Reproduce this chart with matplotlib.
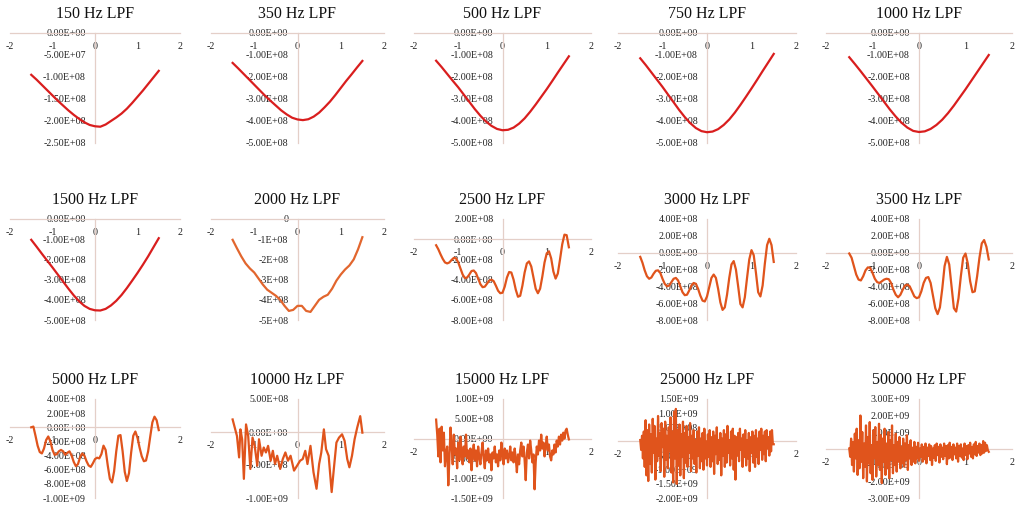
import matplotlib
matplotlib.use("Agg")
import matplotlib.pyplot as plt

plt.rcParams['font.family'] = ['Liberation Serif', 'DejaVu Serif']

# sample positions along x
x_eighth = [-1.5, -1.375, -1.25, -1.125, -1.0, -0.875, -0.75, -0.625, -0.5, -0.375,
            -0.25, -0.125, 0.0, 0.125, 0.25, 0.375, 0.5, 0.625, 0.75, 0.875,
            1.0, 1.125, 1.25, 1.375, 1.5]
x_tenth = [-1.5, -1.4, -1.3, -1.2, -1.1, -1.0, -0.9, -0.8, -0.7, -0.6,
           -0.5, -0.4, -0.3, -0.2, -0.1, 0.0, 0.1, 0.2, 0.3, 0.4,
           0.5, 0.6, 0.7, 0.8, 0.9, 1.0, 1.1, 1.2, 1.3, 1.4, 1.5]
x_twentieth = [-1.5, -1.45, -1.4, -1.35, -1.3, -1.25, -1.2, -1.15, -1.1, -1.05,
               -1.0, -0.95, -0.9, -0.85, -0.8, -0.75, -0.7, -0.65, -0.6, -0.55,
               -0.5, -0.45, -0.4, -0.35, -0.3, -0.25, -0.2, -0.15, -0.1, -0.05,
               0.0, 0.05, 0.1, 0.15, 0.2, 0.25, 0.3, 0.35, 0.4, 0.45,
               0.5, 0.55, 0.6, 0.65, 0.7, 0.75, 0.8, 0.85, 0.9, 0.95,
               1.0, 1.05, 1.1, 1.15, 1.2, 1.25, 1.3, 1.35, 1.4, 1.45, 1.5]
x_fortieth = [-1.5, -1.475, -1.45, -1.425, -1.4, -1.375, -1.35, -1.325, -1.3, -1.275,
              -1.25, -1.225, -1.2, -1.175, -1.15, -1.125, -1.1, -1.075, -1.05, -1.025,
              -1.0, -0.975, -0.95, -0.925, -0.9, -0.875, -0.85, -0.825, -0.8, -0.775,
              -0.75, -0.725, -0.7, -0.675, -0.65, -0.625, -0.6, -0.575, -0.55, -0.525,
              -0.5, -0.475, -0.45, -0.425, -0.4, -0.375, -0.35, -0.325, -0.3, -0.275,
              -0.25, -0.225, -0.2, -0.175, -0.15, -0.125, -0.1, -0.075, -0.05, -0.025,
              0.0, 0.025, 0.05, 0.075, 0.1, 0.125, 0.15, 0.175, 0.2, 0.225,
              0.25, 0.275, 0.3, 0.325, 0.35, 0.375, 0.4, 0.425, 0.45, 0.475,
              0.5, 0.525, 0.55, 0.575, 0.6, 0.625, 0.65, 0.675, 0.7, 0.725,
              0.75, 0.775, 0.8, 0.825, 0.85, 0.875, 0.9, 0.925, 0.95, 0.975,
              1.0, 1.025, 1.05, 1.075, 1.1, 1.125, 1.15, 1.175, 1.2, 1.225,
              1.25, 1.275, 1.3, 1.325, 1.35, 1.375, 1.4, 1.425, 1.45, 1.475, 1.5]
x_fiftieth = [-1.5, -1.48, -1.46, -1.44, -1.42, -1.4, -1.38, -1.36, -1.34, -1.32,
              -1.3, -1.28, -1.26, -1.24, -1.22, -1.2, -1.18, -1.16, -1.14, -1.12,
              -1.1, -1.08, -1.06, -1.04, -1.02, -1.0, -0.98, -0.96, -0.94, -0.92,
              -0.9, -0.88, -0.86, -0.84, -0.82, -0.8, -0.78, -0.76, -0.74, -0.72,
              -0.7, -0.68, -0.66, -0.64, -0.62, -0.6, -0.58, -0.56, -0.54, -0.52,
              -0.5, -0.48, -0.46, -0.44, -0.42, -0.4, -0.38, -0.36, -0.34, -0.32,
              -0.3, -0.28, -0.26, -0.24, -0.22, -0.2, -0.18, -0.16, -0.14, -0.12,
              -0.1, -0.08, -0.06, -0.04, -0.02, 0.0, 0.02, 0.04, 0.06, 0.08,
              0.1, 0.12, 0.14, 0.16, 0.18, 0.2, 0.22, 0.24, 0.26, 0.28,
              0.3, 0.32, 0.34, 0.36, 0.38, 0.4, 0.42, 0.44, 0.46, 0.48,
              0.5, 0.52, 0.54, 0.56, 0.58, 0.6, 0.62, 0.64, 0.66, 0.68,
              0.7, 0.72, 0.74, 0.76, 0.78, 0.8, 0.82, 0.84, 0.86, 0.88,
              0.9, 0.92, 0.94, 0.96, 0.98, 1.0, 1.02, 1.04, 1.06, 1.08,
              1.1, 1.12, 1.14, 1.16, 1.18, 1.2, 1.22, 1.24, 1.26, 1.28,
              1.3, 1.32, 1.34, 1.36, 1.38, 1.4, 1.42, 1.44, 1.46, 1.48, 1.5]
x_10k = [-1.5, -1.4, -1.35, -1.32, -1.28, -1.24, -1.19, -1.14, -1.09, -1.04,
         -0.99, -0.93, -0.89, -0.83, -0.78, -0.73, -0.68, -0.62, -0.57, -0.52,
         -0.47, -0.40, -0.34, -0.28, -0.22, -0.16, -0.08, 0.0, 0.06, 0.12,
         0.18, 0.23, 0.30, 0.37, 0.44, 0.50, 0.55, 0.61, 0.66, 0.72,
         0.79, 0.84, 0.90, 0.96, 1.03, 1.09, 1.15, 1.20, 1.26, 1.32,
         1.38, 1.45, 1.50]

# filtered values, in units of 1e8
lpf_150 = [-0.95, -1.06, -1.18, -1.30, -1.42, -1.54, -1.65, -1.76, -1.86, -1.95,
           -2.03, -2.09, -2.12, -2.13, -2.08, -2.00, -1.92, -1.83, -1.72, -1.59,
           -1.45, -1.31, -1.16, -1.01, -0.86]
lpf_350 = [-1.36, -1.60, -1.85, -2.10, -2.35, -2.60, -2.85, -3.08, -3.30, -3.52,
           -3.70, -3.85, -3.93, -3.96, -3.92, -3.80, -3.62, -3.38, -3.12, -2.82,
           -2.50, -2.18, -1.88, -1.57, -1.27]
lpf_500 = [-1.26, -1.55, -1.86, -2.17, -2.47, -2.80, -3.13, -3.46, -3.76, -4.02,
           -4.22, -4.36, -4.42, -4.40, -4.30, -4.12, -3.88, -3.58, -3.25, -2.90,
           -2.55, -2.18, -1.80, -1.43, -1.06]
lpf_750 = [-1.15, -1.46, -1.79, -2.12, -2.45, -2.80, -3.15, -3.50, -3.82, -4.10,
           -4.32, -4.46, -4.51, -4.48, -4.37, -4.18, -3.93, -3.62, -3.27, -2.90,
           -2.52, -2.13, -1.73, -1.34, -0.95]
lpf_1000 = [-1.10, -1.42, -1.75, -2.09, -2.43, -2.78, -3.13, -3.48, -3.80, -4.08,
            -4.30, -4.45, -4.50, -4.47, -4.36, -4.18, -3.94, -3.64, -3.30, -2.93,
            -2.56, -2.17, -1.78, -1.39, -1.00]
lpf_1500 = [-1.03, -1.37, -1.72, -2.06, -2.40, -2.75, -3.10, -3.45, -3.78, -4.07,
            -4.30, -4.45, -4.52, -4.53, -4.45, -4.28, -4.05, -3.76, -3.42, -3.05,
            -2.67, -2.27, -1.85, -1.40, -0.95]
lpf_2000 = [-1.03, -1.45, -1.85, -2.20, -2.45, -2.65, -2.95, -3.25, -3.50, -3.65,
            -3.80, -4.00, -4.30, -4.55, -4.50, -4.30, -4.30, -4.55, -4.60, -4.30,
            -4.00, -3.85, -3.75, -3.45, -3.05, -2.75, -2.50, -2.30, -2.00, -1.50, -0.90]
lpf_2500 = [-0.6, -1.0, -1.5, -1.95, -2.3, -2.4, -2.3, -2.05, -1.85, -1.9,
            -2.3, -2.9, -3.5, -3.85, -3.8, -3.5, -3.15, -3.1, -3.35, -3.9,
            -4.45, -4.75, -4.7, -4.4, -4.1, -4.0, -4.15, -4.6, -5.1, -5.35,
            -5.3, -4.7, -3.8, -3.25, -3.3, -4.0, -5.0, -5.7, -5.6, -4.6,
            -3.3, -2.4, -2.2, -2.7, -3.8, -4.9, -5.35, -4.9, -3.7, -2.3,
            -1.4, -1.2, -1.9, -3.2, -3.9, -3.4, -2.0, -0.5, 0.45, 0.4, -0.8]
lpf_3000 = [-0.5, -1.2, -2.1, -2.8, -3.1, -2.95, -2.5, -2.15, -2.1, -2.4,
            -3.1, -3.7, -4.0, -3.9, -3.5, -3.1, -3.0, -3.3, -4.0, -4.7,
            -5.05, -5.0, -4.5, -3.9, -3.6, -3.7, -4.3, -5.1, -5.7, -5.8,
            -5.2, -4.1, -3.0, -2.6, -3.0, -4.3, -5.9, -6.8, -6.5, -5.0,
            -3.0, -1.4, -1.0, -2.0, -4.0, -6.1, -6.5, -5.3, -3.0, -0.8,
            0.3, -0.3, -2.4, -4.7, -5.2, -3.9, -1.3, 0.9, 1.65, 0.9, -1.1]
lpf_3500 = [-0.1, -0.6, -1.6, -2.6, -3.2, -3.3, -2.8, -2.1, -1.75, -1.8,
            -2.4, -3.1, -3.5, -3.6, -3.4, -3.2, -3.1, -3.15, -3.6, -4.4,
            -5.0, -5.3, -5.0, -4.4, -3.9, -3.8, -4.0, -4.6, -5.2, -5.4,
            -5.3, -4.6, -3.6, -3.0, -2.9, -3.6, -5.1, -6.6, -7.3, -6.5,
            -4.3, -1.6, -0.5, -1.4, -4.0, -6.6, -7.0, -5.4, -2.8, -0.6,
            -0.1, -1.3, -3.4, -4.7, -4.6, -2.8, -0.6, 1.1, 1.5, 0.7, -0.8]
lpf_5000 = [0.0, 0.1, -1.2, -2.6, -3.5, -3.7, -3.0, -1.8, -1.3, -2.0,
            -3.2, -3.9, -3.8, -3.4, -3.2, -3.4, -3.9, -3.6, -3.4, -4.0,
            -4.9, -5.5, -5.2, -4.2, -3.7, -4.0, -4.8, -5.4, -5.6, -5.1,
            -4.5, -4.3, -4.4, -3.8, -2.6, -3.2, -5.4, -7.3, -7.8, -6.2,
            -3.4, -1.2, -1.1, -3.4, -6.3, -7.6, -6.5, -3.6, -1.2, -0.6,
            -1.5, -2.9, -4.1, -4.8, -4.7, -3.4, -1.3, 0.7, 1.5, 1.0, -0.4]
lpf_10000 = [1.9, -0.6, -3.85, 0.4, -1.1, -7.1, 1.15, -0.6, -5.6, -0.85,
             -2.1, -5.1, -1.1, -3.6, -2.35, -3.1, -2.1, -4.35, -2.85, -4.85,
             -3.6, -5.6, -4.1, -3.1, -4.35, -3.6, -5.85, -5.0, -4.35, -4.1,
             -2.85, -4.85, -2.1, -6.1, -8.6, -4.85, -3.1, 0.4, -2.6, -3.6,
             -9.1, -5.6, -1.6, -0.85, -0.35, -1.35, -4.1, -5.35, -3.6, -1.1,
             0.65, 2.4, -0.1]
lpf_15000 = [4.8, 1.0, -4.5, 2.5, -6.0, 3.0, -3.0, 1.5, -7.0, -3.5,
             -2.0, -11.8, -5.0, 2.8, -1.5, -6.5, 1.0, -4.0, -2.5, -7.5,
             -1.0, -5.5, 0.5, -3.5, -6.5, -2.0, -4.5, 1.0, -5.0, -3.0,
             -6.0, -2.5, -8.0, -4.0, -1.5, -5.5, -3.0, -7.0, -2.0, -4.5,
             -6.5, -3.5, -1.0, -5.0, -7.5, -3.0, -5.5, -2.5, -6.0, -4.0,
             -8.0, -3.5, -5.0, -2.0, -6.0, -4.0, -7.0, -3.0, -5.5, -1.0,
             -4.0, -6.5, -2.5, -5.0, -3.0, -6.0, -4.5, -2.0, -5.5, -3.5,
             -6.0, -2.5, -5.0, -8.5, -4.0, -6.5, -3.0, -1.0, -4.5, -2.0,
             -5.5, -10.5, -3.5, -1.5, -5.0, -0.5, -3.0, -6.0, -4.0, -12.8,
             -6.0, -2.0, -4.0, -0.5, -3.0, 1.0, -2.5, -1.0, -4.5, -2.0,
             0.5, -3.0, -1.5, -4.5, -5.5, -3.0, -4.0, -1.5, -3.5, -0.5,
             -2.0, 0.5, -1.5, 1.0, -0.5, 1.5, 0.0, 2.0, 2.5, 1.0, -0.2]
lpf_25000 = [0.5, -3.0, 2.0, -6.0, 3.5, -9.0, 7.5, -12.0, 4.0, -14.0,
             6.0, -8.0, 2.5, -11.0, 8.0, -4.0, 5.5, -13.5, 1.0, -7.0,
             9.0, -5.0, 3.0, -10.5, 6.5, -2.0, 4.5, -12.5, 7.0, -6.5,
             2.0, -9.5, 5.0, -3.5, 8.5, -11.0, 3.5, -14.5, 10.5, -6.0,
             11.5, -15.0, 4.0, -8.5, 6.0, -12.0, 2.5, -5.5, 7.0, -13.0,
             3.0, -7.5, 5.5, -9.0, 1.5, -4.0, 6.5, -10.5, 2.0, -6.0,
             4.0, -8.0, 0.5, -11.0, 3.5, -5.0, 5.0, -9.5, 1.0, -7.0,
             3.0, -10.0, 4.5, -6.0, 0.0, -8.5, 2.5, -5.5, 4.0, -9.0,
             1.5, -7.0, 3.5, -11.5, 2.0, -4.5, 5.0, -8.0, 0.5, -6.5,
             3.0, -12.0, 1.0, -5.0, 4.0, -9.0, 2.5, -7.5, 5.5, -4.0,
             0.5, -8.5, 3.5, -6.0, 4.5, -10.0, 2.0, -13.5, 1.5, -5.0,
             3.0, -7.0, 4.5, -3.0, 1.0, -9.0, 2.5, -5.5, 4.0, -8.5,
             0.5, -6.0, 3.0, -10.5, 1.5, -4.0, 3.5, -7.5, 2.0, -9.0,
             4.0, -5.5, 1.0, -8.0, 3.5, -3.0, 4.5, -6.5, 2.0, -4.5,
             3.5, -7.0, 4.0, -2.5, 1.5, -5.0, 3.5, -3.5, 4.0, -1.0, -1.0]
lpf_50000 = [0.0, -5.0, 6.0, -10.0, 4.0, -14.0, 9.0, -6.0, 12.0, -16.0,
             5.0, -12.0, 20.0, -8.0, 10.0, -18.0, 3.0, -11.0, 14.0, -20.0,
             7.0, -9.0, 16.0, -15.0, 2.0, -19.0, 11.0, -6.0, 13.0, -17.0,
             4.0, -10.0, 15.0, -13.0, 8.0, -21.0, 6.0, -8.0, 12.0, -16.0,
             3.0, -12.0, 10.0, -18.0, 5.0, -7.0, 14.0, -15.0, 2.0, -10.0,
             9.0, -14.0, 4.0, -8.0, 7.0, -12.0, 1.0, -9.0, 6.0, -11.0,
             3.0, -7.0, 8.0, -13.0, 2.0, -6.0, 5.0, -10.0, 0.5, -8.0,
             4.0, -9.0, 1.0, -6.0, 3.5, -7.5, 0.0, -5.0, 2.5, -8.0,
             1.0, -6.5, 3.0, -9.0, 0.5, -4.5, 2.5, -7.0, 1.5, -10.0,
             0.0, -5.5, 2.0, -7.5, 3.0, -4.0, 1.0, -8.5, 2.5, -5.0,
             0.5, -6.5, 3.0, -4.5, 1.5, -9.5, 2.0, -6.0, 3.5, -5.5,
             1.0, -7.0, 2.5, -3.5, 0.5, -6.0, 3.0, -8.0, 1.5, -4.5,
             2.5, -5.5, 0.0, -7.0, 3.0, -4.0, 1.5, -6.5, 2.0, -3.0,
             3.5, -5.0, 1.0, -6.0, 2.5, -3.5, 4.0, -4.5, 1.5, -2.5,
             3.0, -4.0, 2.0, -3.0, 4.5, -2.5, 3.5, -1.5, 2.0, -1.0, -2.0]

# y tick values, in units of 1e8
yt_150 = [0, -0.5, -1.0, -1.5, -2.0, -2.5]
yt_500 = [0, -1, -2, -3, -4, -5]
yt_2500 = [2, 0, -2, -4, -6, -8]
yt_3000 = [4, 2, 0, -2, -4, -6, -8]
yt_5000 = [4, 2, 0, -2, -4, -6, -8, -10]
yt_10000 = [5, 0, -5, -10]
yt_15000 = [10, 5, 0, -5, -10, -15]
yt_25000 = [15, 10, 5, 0, -5, -10, -15, -20]
yt_50000 = [30, 20, 10, 0, -10, -20, -30]
xt = [-2, -1, 0, 1, 2]

red = '#d91e1e'
orange = '#e0541c'
axis_col = '#e4cfc8'

panels = [
    ("150 Hz LPF", x_eighth, lpf_150, yt_150, red),
    ("350 Hz LPF", x_eighth, lpf_350, yt_500, red),
    ("500 Hz LPF", x_eighth, lpf_500, yt_500, red),
    ("750 Hz LPF", x_eighth, lpf_750, yt_500, red),
    ("1000 Hz LPF", x_eighth, lpf_1000, yt_500, red),
    ("1500 Hz LPF", x_eighth, lpf_1500, yt_500, red),
    ("2000 Hz LPF", x_tenth, lpf_2000, yt_500, '#e2662e'),
    ("2500 Hz LPF", x_twentieth, lpf_2500, yt_2500, orange),
    ("3000 Hz LPF", x_twentieth, lpf_3000, yt_3000, orange),
    ("3500 Hz LPF", x_twentieth, lpf_3500, yt_3000, orange),
    ("5000 Hz LPF", x_twentieth, lpf_5000, yt_5000, orange),
    ("10000 Hz LPF", x_10k, lpf_10000, yt_10000, orange),
    ("15000 Hz LPF", x_fortieth, lpf_15000, yt_15000, orange),
    ("25000 Hz LPF", x_fiftieth, lpf_25000, yt_25000, orange),
    ("50000 Hz LPF", x_fiftieth, lpf_50000, yt_50000, orange),
]

W, H = 1018, 509
col_px = [(10, 180), (211, 384), (414, 591), (618, 796), (826, 1012)]
row_px = [(33, 143), (219, 320), (399, 498)]

fig = plt.figure(figsize=(W / 100, H / 100), dpi=100)
fig.patch.set_facecolor('white')

for i, (title, xs, ys, yt, color) in enumerate(panels):
    r, c = divmod(i, 5)
    x0, x1 = col_px[c]
    y0, y1 = row_px[r]
    ax = fig.add_axes([x0 / W, 1 - y1 / H, (x1 - x0) / W, (y1 - y0) / H])
    ax.patch.set_visible(False)

    ax.plot(xs, [v * 1e8 for v in ys], color=color, lw=1.6,
            solid_joinstyle='round', zorder=3, clip_on=False)

    ax.set_xlim(-2, 2)
    ax.set_ylim(min(yt) * 1e8, max(yt) * 1e8)
    for side in ('top', 'right'):
        ax.spines[side].set_visible(False)
    ax.spines['left'].set_position(('data', 0))
    ax.spines['bottom'].set_position(('data', 0))
    for side in ('left', 'bottom'):
        ax.spines[side].set_color(axis_col)
        ax.spines[side].set_linewidth(0.9)

    ax.set_xticks(xt)
    ax.set_xticklabels([str(v) for v in xt])
    ax.set_yticks([v * 1e8 for v in yt])
    if title.startswith("2000"):
        labels = ["0" if v == 0 else "{:.0E}".format(v * 1e8) for v in yt]
    else:
        labels = ["{:.2E}".format(v * 1e8) for v in yt]
    ax.set_yticklabels(labels)
    ax.tick_params(axis='both', length=0, labelsize=7.2, labelcolor='#222222')
    ax.tick_params(axis='x', pad=6.5)
    ax.tick_params(axis='y', pad=6.5)

    ax.set_title(title, fontsize=11.5, pad=11, color='#111111')

fig.savefig("out.png", dpi=100)
